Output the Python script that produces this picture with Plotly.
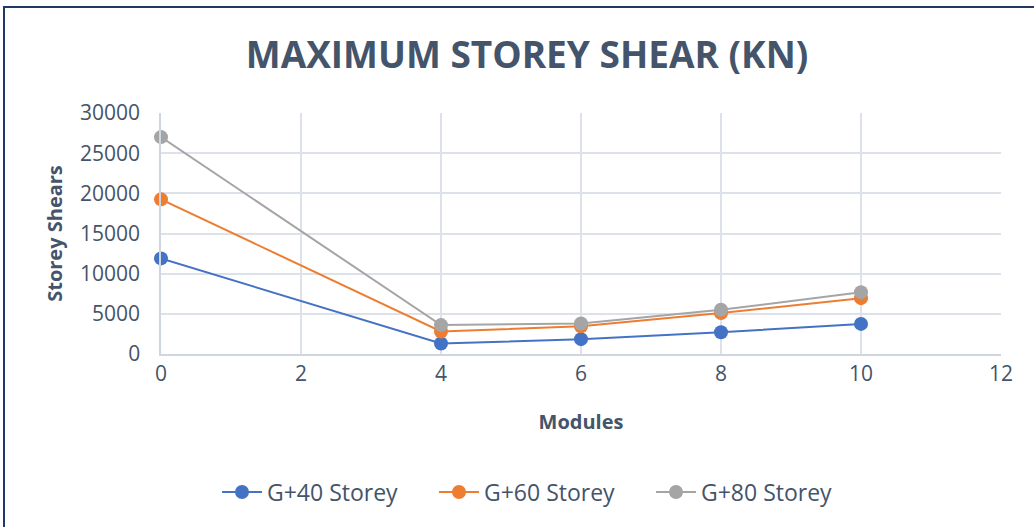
import plotly.graph_objects as go

modules = [0, 4, 6, 8, 10]
g40 = [11900, 1300, 1850, 2700, 3750]
g60 = [19250, 2800, 3450, 5100, 6950]
g80 = [27000, 3600, 3800, 5500, 7700]
series_names = ["G+40 Storey", "G+60 Storey", "G+80 Storey"]
colors = ["#4472C4", "#ED7D31", "#A5A5A5"]

fig = go.Figure()
for name, vals, c in zip(series_names, [g40, g60, g80], colors):
    fig.add_trace(go.Scatter(
        x=modules, y=vals, name=name, mode="lines+markers",
        line=dict(color=c, width=2),
        marker=dict(color=c, size=14),
        cliponaxis=False,
    ))

L, R, T, B = 161, 33, 113, 173
W, H = 1034, 527
pw, ph = W - L - R, H - T - B

fig.update_layout(
    width=W, height=H,
    margin=dict(l=L, r=R, t=T, b=B, autoexpand=False),
    paper_bgcolor="white", plot_bgcolor="white",
    font=dict(family="Open Sans", color="#44546A", size=18),
    title=dict(text="<b>MAXIMUM STOREY SHEAR (KN)</b>", xref="container", x=527 / W, xanchor="center",
               y=1 - 55 / H, yanchor="middle",
               font=dict(size=37, color="#44546A", family="Open Sans")),
    xaxis=dict(range=[0, 12], dtick=2, showgrid=True, gridcolor="#DDE2EA", gridwidth=1.5,
               zeroline=False, showline=True, linecolor="#D0D6E0", linewidth=1.5,
               ticks="", tickfont=dict(size=21, color="#44546A"), automargin=False,
               title=dict(text="<b>Modules</b>", font=dict(size=20, color="#44546A"), standoff=29)),
    yaxis=dict(range=[0, 30000], dtick=5000, tickformat="d", showgrid=True, gridcolor="#DDE2EA",
               gridwidth=1.5, zeroline=False, showline=True, linecolor="#D0D6E0", linewidth=1.5,
               ticks="", tickfont=dict(size=21, color="#44546A"), ticksuffix="  ",
               ticklabelstandoff=4, automargin=False,
               title=dict(text="<b>Storey Shears</b>", font=dict(size=20, color="#44546A"), standoff=12)),
    legend=dict(orientation="h", x=(217 - L) / pw, xanchor="left", y=(354 - 492) / ph, yanchor="middle",
                font=dict(size=23, color="#44546A"), itemwidth=40,
                entrywidth=162, entrywidthmode="pixels"),
    shapes=[dict(type="rect", xref="paper", yref="paper",
                 x0=(4 - L) / pw, x1=(W + 10 - L) / pw,
                 y0=(354 - (H + 10)) / ph, y1=(354 - 7) / ph,
                 line=dict(color="#1F3864", width=2), fillcolor="rgba(0,0,0,0)", layer="above")],
)

fig.write_html("out.html", config={"displayModeBar": False},
               post_script="document.body.style.margin='0';document.body.style.overflow='hidden';")
